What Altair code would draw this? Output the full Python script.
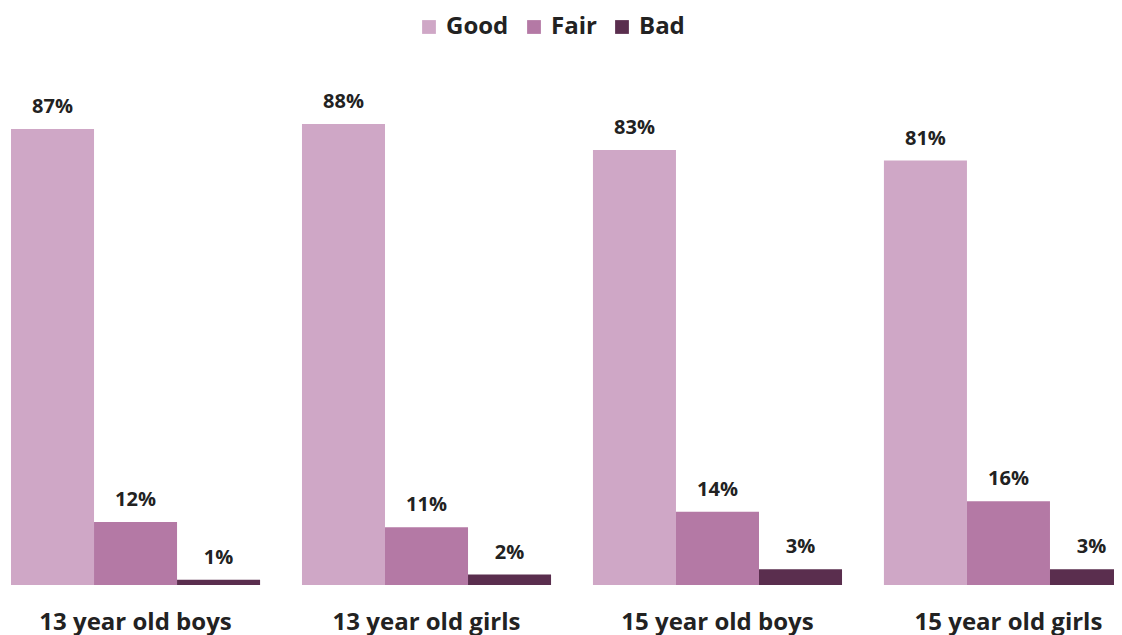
import altair as alt
import pandas as pd

groups = ["13 year old boys", "13 year old girls", "15 year old boys", "15 year old girls"]
categories = ["Good", "Fair", "Bad"]
good = [87, 88, 83, 81]
fair = [12, 11, 14, 16]
bad = [1, 2, 3, 3]
colors = ["#CFA7C6", "#B479A5", "#5A2E4E"]

rows = []
for i, g in enumerate(groups):
    for c, vals in zip(categories, [good, fair, bad]):
        rows.append({"group": g, "category": c, "value": vals[i], "label": f"{vals[i]}%"})
df = pd.DataFrame(rows)

FONT = "Open Sans"

base = alt.Chart(df).encode(
    x=alt.X("group:N", sort=groups, title=None,
            scale=alt.Scale(paddingInner=0.144, paddingOuter=0, range=[0, 1122]),
            axis=alt.Axis(labelAngle=0, domain=False, ticks=False, labelFontSize=24,
                          labelFontWeight="bold", labelFont=FONT, labelColor="#222222",
                          labelPadding=25, labelLimit=400)),
    xOffset=alt.XOffset("category:N", sort=categories, scale=alt.Scale(paddingInner=0, paddingOuter=0)),
    y=alt.Y("value:Q", scale=alt.Scale(domain=[0, 100]), axis=None),
)

bars = base.mark_bar().encode(
    color=alt.Color("category:N", sort=categories,
                    scale=alt.Scale(domain=categories, range=colors),
                    legend=alt.Legend(title=None, orient="none", direction="horizontal",
                                      legendX=406, legendY=-46, symbolType="square",
                                      symbolSize=190, symbolStrokeWidth=0, labelFontSize=24,
                                      labelFont=FONT, labelFontWeight="bold",
                                      labelColor="#222222", columnPadding=13, labelOffset=5))
)

text = base.mark_text(dy=-12, fontSize=20, font=FONT, fontWeight="bold", color="#222222",
                      baseline="bottom").encode(text="label:N")

chart = (bars + text).properties(
    width=1103, height=524,
    padding={"left": 3, "top": 53, "right": 0, "bottom": 55},
    autosize=alt.AutoSizeParams(type="none"),
).configure_view(stroke=None)

chart.save("out.html", embed_options={"renderer": "svg", "actions": False})
